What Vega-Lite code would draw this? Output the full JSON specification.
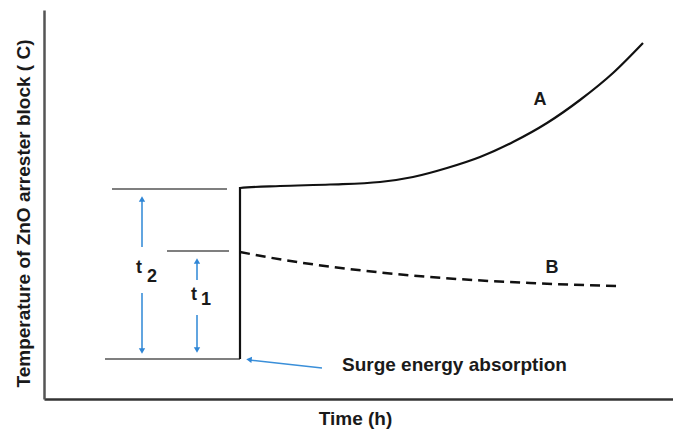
{
  "$schema": "https://vega.github.io/schema/vega-lite/v6.json",
  "width": 629,
  "height": 389,
  "autosize": {"type": "none"},
  "padding": {"left": 44, "top": 10, "right": 0, "bottom": 31},
  "background": "white",
  "config": {
    "view": {"stroke": null},
    "font": "Liberation Sans",
    "axis": {"grid": false, "ticks": false, "labels": false, "titleFont": "Liberation Sans", "titleFontWeight": "bold", "titleFontSize": 19, "titleColor": "#1a1a1a"}
  },
  "datasets": {
    "curves": [
      {"series": "A", "order": 1, "t": 196, "temp": 40},
      {"series": "A", "order": 2, "t": 196, "temp": 211},
      {"series": "A", "order": 3, "t": 236, "temp": 213},
      {"series": "A", "order": 4, "t": 286, "temp": 214.5},
      {"series": "A", "order": 5, "t": 336, "temp": 217},
      {"series": "A", "order": 6, "t": 369, "temp": 222},
      {"series": "A", "order": 7, "t": 403, "temp": 231},
      {"series": "A", "order": 8, "t": 436, "temp": 242},
      {"series": "A", "order": 9, "t": 469, "temp": 257},
      {"series": "A", "order": 10, "t": 503, "temp": 276},
      {"series": "A", "order": 11, "t": 536, "temp": 299},
      {"series": "A", "order": 12, "t": 569, "temp": 326},
      {"series": "A", "order": 13, "t": 599, "temp": 356},
      {"series": "B", "order": 1, "t": 196, "temp": 147},
      {"series": "B", "order": 2, "t": 240, "temp": 139},
      {"series": "B", "order": 3, "t": 289, "temp": 132},
      {"series": "B", "order": 4, "t": 386, "temp": 122},
      {"series": "B", "order": 5, "t": 486, "temp": 116},
      {"series": "B", "order": 6, "t": 573, "temp": 113}
    ],
    "levels": [
      {"t": 68, "t2": 183, "temp": 210},
      {"t": 123, "t2": 185, "temp": 148},
      {"t": 61, "t2": 196, "temp": 40}
    ],
    "shafts": [
      {"t": 98, "temp": 200, "t2": 98, "temp2": 152},
      {"t": 98, "temp": 106, "t2": 98, "temp2": 48},
      {"t": 153, "temp": 138, "t2": 153, "temp2": 119},
      {"t": 153, "temp": 84, "t2": 153, "temp2": 49},
      {"t": 278, "temp": 31, "t2": 205, "temp2": 39}
    ],
    "heads": [
      {"dir": "up", "t": 98, "temp": 200},
      {"dir": "down", "t": 98, "temp": 48},
      {"dir": "up", "t": 153, "temp": 138},
      {"dir": "down", "t": 153, "temp": 49},
      {"dir": "left", "t": 205, "temp": 39.5}
    ],
    "labels": [
      {"label": "A", "t": 496, "temp": 299},
      {"label": "B", "t": 508, "temp": 131},
      {"label": "t", "t": 95, "temp": 131},
      {"label": "2", "t": 108, "temp": 122},
      {"label": "t", "t": 150, "temp": 104},
      {"label": "1", "t": 162, "temp": 99}
    ],
    "notes": [
      {"label": "Surge energy absorption", "t": 298, "temp": 34}
    ]
  },
  "layer": [
    {
      "mark": {"type": "rule", "color": "#666666", "strokeWidth": 2.5},
      "encoding": {
        "y": {"datum": 389, "type": "quantitative", "scale": {"domain": [0, 389], "nice": false, "zero": false},
              "axis": {"title": "Temperature of ZnO arrester block ( C)", "domainColor": "#555555", "domainWidth": 2.5, "titleX": -21, "titleY": 203, "titleBaseline": "middle", "titleAlign": "center", "titleAngle": -90}}
      }
    },
    {
      "data": {"name": "levels"},
      "mark": {"type": "rule", "color": "#555555", "strokeWidth": 1.6},
      "encoding": {
        "x": {"field": "t", "type": "quantitative", "scale": {"domain": [0, 629], "nice": false, "zero": false},
              "axis": {"title": "Time (h)", "domainColor": "#333333", "domainWidth": 2.5, "titleX": 311, "titleY": 19, "titleBaseline": "middle", "titleAlign": "center"}},
        "x2": {"field": "t2"},
        "y": {"field": "temp", "type": "quantitative"}
      }
    },
    {
      "data": {"name": "curves"},
      "transform": [{"filter": "datum.series === 'A'"}],
      "mark": {"type": "line", "color": "#111111", "strokeWidth": 2.2, "interpolate": "monotone"},
      "encoding": {
        "x": {"field": "t", "type": "quantitative"},
        "y": {"field": "temp", "type": "quantitative"},
        "order": {"field": "order", "type": "quantitative"}
      }
    },
    {
      "data": {"name": "curves"},
      "transform": [{"filter": "datum.series === 'B'"}],
      "mark": {"type": "line", "color": "#111111", "strokeWidth": 2.5, "strokeDash": [10, 6], "interpolate": "monotone"},
      "encoding": {
        "x": {"field": "t", "type": "quantitative"},
        "y": {"field": "temp", "type": "quantitative"},
        "order": {"field": "order", "type": "quantitative"}
      }
    },
    {
      "data": {"name": "shafts"},
      "mark": {"type": "rule", "color": "#3a8fd9", "strokeWidth": 1.6},
      "encoding": {
        "x": {"field": "t", "type": "quantitative"},
        "y": {"field": "temp", "type": "quantitative"},
        "x2": {"field": "t2"},
        "y2": {"field": "temp2"}
      }
    },
    {
      "data": {"name": "heads"},
      "transform": [{"filter": "datum.dir === 'up'"}],
      "mark": {"type": "point", "shape": "triangle-up", "filled": true, "size": 40, "color": "#2f86d6", "opacity": 1},
      "encoding": {
        "x": {"field": "t", "type": "quantitative"},
        "y": {"field": "temp", "type": "quantitative"}
      }
    },
    {
      "data": {"name": "heads"},
      "transform": [{"filter": "datum.dir === 'down'"}],
      "mark": {"type": "point", "shape": "triangle-down", "filled": true, "size": 40, "color": "#2f86d6", "opacity": 1},
      "encoding": {
        "x": {"field": "t", "type": "quantitative"},
        "y": {"field": "temp", "type": "quantitative"}
      }
    },
    {
      "data": {"name": "heads"},
      "transform": [{"filter": "datum.dir === 'left'"}],
      "mark": {"type": "point", "shape": "triangle-left", "angle": 6, "filled": true, "size": 40, "color": "#2f86d6", "opacity": 1},
      "encoding": {
        "x": {"field": "t", "type": "quantitative"},
        "y": {"field": "temp", "type": "quantitative"}
      }
    },
    {
      "data": {"name": "labels"},
      "mark": {"type": "text", "font": "Liberation Sans", "fontWeight": "bold", "fontSize": 18, "color": "#1a1a1a", "align": "center", "baseline": "middle"},
      "encoding": {
        "x": {"field": "t", "type": "quantitative"},
        "y": {"field": "temp", "type": "quantitative"},
        "text": {"field": "label"}
      }
    },
    {
      "data": {"name": "notes"},
      "mark": {"type": "text", "font": "Liberation Sans", "fontWeight": "bold", "fontSize": 19, "color": "#1a1a1a", "align": "left", "baseline": "middle"},
      "encoding": {
        "x": {"field": "t", "type": "quantitative"},
        "y": {"field": "temp", "type": "quantitative"},
        "text": {"field": "label"}
      }
    }
  ]
}
